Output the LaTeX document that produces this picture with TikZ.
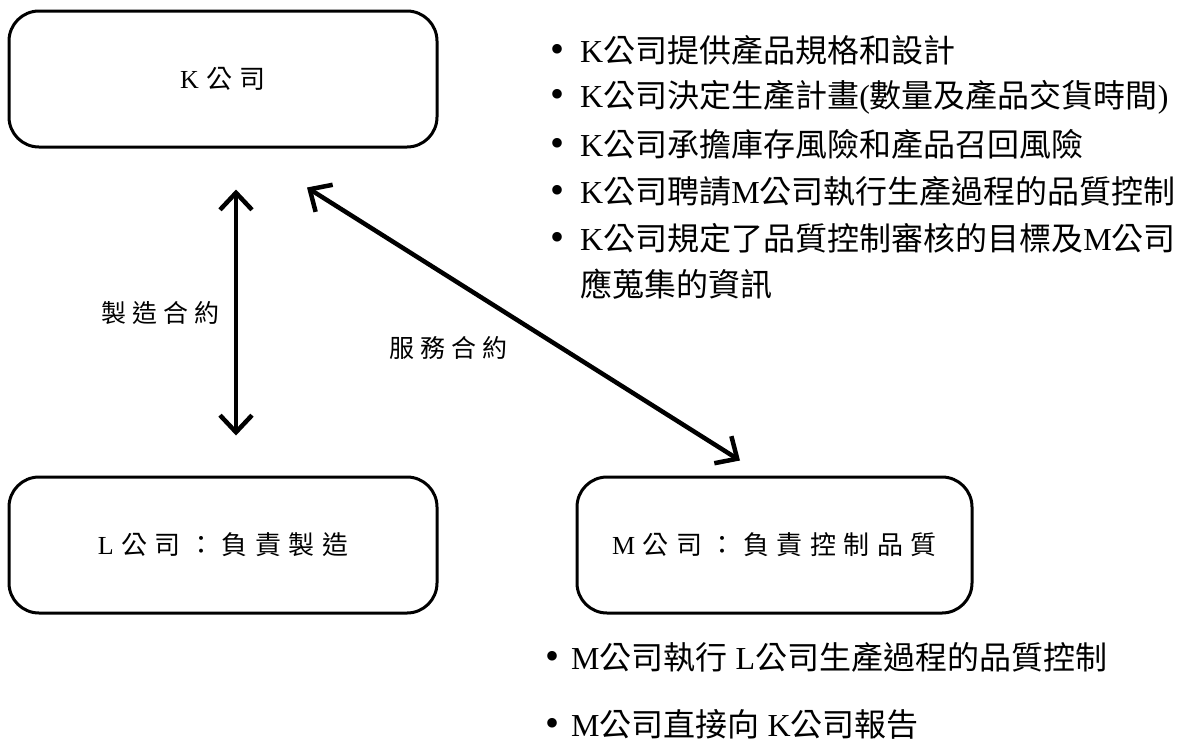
\documentclass[tikz,border=0pt]{standalone}
\usepackage{fontspec}
\setmainfont{Liberation Serif}
\newfontfamily\cjk{Noto Sans CJK TC}
\usetikzlibrary{arrows.meta}
\newcommand\zh[1]{{\cjk #1}}
\newcommand\chargap{\hspace{7.5pt}}
\newcommand\lblgap{\hspace{6pt}}

\tikzset{
  company/.style={draw, line width=3pt, rounded corners=30pt,
    minimum width=428pt, minimum height=136pt, inner sep=0pt,
    font=\fontsize{26}{30}\selectfont},
  contract/.style={inner sep=0pt, font=\fontsize{25}{30}\selectfont},
  point/.style={anchor=west, inner sep=0pt, font=\fontsize{32}{40}\selectfont},
  link/.style={line width=4.5pt,
    {Straight Barb[length=17pt,width=32pt]}-{Straight Barb[length=17pt,width=32pt]}}
}
% list bullet, slightly larger than the text's own
\newcommand\dotmark[1]{\makebox[#1][l]{\raisebox{0pt}{\fontsize{40}{40}\selectfont •}}}

\begin{document}
\begin{tikzpicture}[x=1pt,y=-1pt]
  \useasboundingbox (0,0) rectangle (1186,745);

  % the three companies
  \node[company] (K) at (223,79) {K\chargap\zh{公}\chargap\zh{司}};
  \node[company] (L) at (223,545) {L\chargap\zh{公}\chargap\zh{司}\chargap\zh{：}\chargap\zh{負}\chargap\zh{責}\chargap\zh{製}\chargap\zh{造}};
  \node[company, minimum width=395pt] (M) at (774.5,545) {M\chargap\zh{公}\chargap\zh{司}\chargap\zh{：}\chargap\zh{負}\chargap\zh{責}\chargap\zh{控}\chargap\zh{制}\chargap\zh{品}\chargap\zh{質}};

  % contracts
  \draw[link] ([xshift=13pt,yshift=-41pt]K.south) -- ([xshift=13pt,yshift=40pt]L.north);
  \draw[link] ([xshift=84pt,yshift=-39pt]K.south) -- ([xshift=-34.5pt,yshift=15pt]M.north);
  \node[contract] (mfg) at (160,313) {\zh{製}\lblgap\zh{造}\lblgap\zh{合}\lblgap\zh{約}};
  \node[contract] (svc) at (448,348) {\zh{服}\lblgap\zh{務}\lblgap\zh{合}\lblgap\zh{約}};

  % duties of K
  \node[point] (k1) at (550,50)  {\dotmark{30pt}K\zh{公司提供產品規格和設計}};
  \node[point] (k2) at (550,97)  {\dotmark{30pt}K\zh{公司決定生產計畫}(\zh{數量及產品交貨時間})};
  \node[point] (k3) at (550,144) {\dotmark{30pt}K\zh{公司承擔庫存風險和產品召回風險}};
  \node[point] (k4) at (550,191) {\dotmark{30pt}K\zh{公司聘請}M\zh{公司執行生產過程的品質控制}};
  \node[point] (k5) at (550,238) {\dotmark{30pt}K\zh{公司規定了品質控制審核的目標及}M\zh{公司}};
  \node[point] (k5b) at (580,284) {\zh{應蒐集的資訊}};

  % duties of M
  \node[point] (m1) at (545,657) {\dotmark{26pt}M\zh{公司執行} L\zh{公司生產過程的品質控制}};
  \node[point] (m2) at (545,724) {\dotmark{26pt}M\zh{公司直接向} K\zh{公司報告}};
\end{tikzpicture}
\end{document}
